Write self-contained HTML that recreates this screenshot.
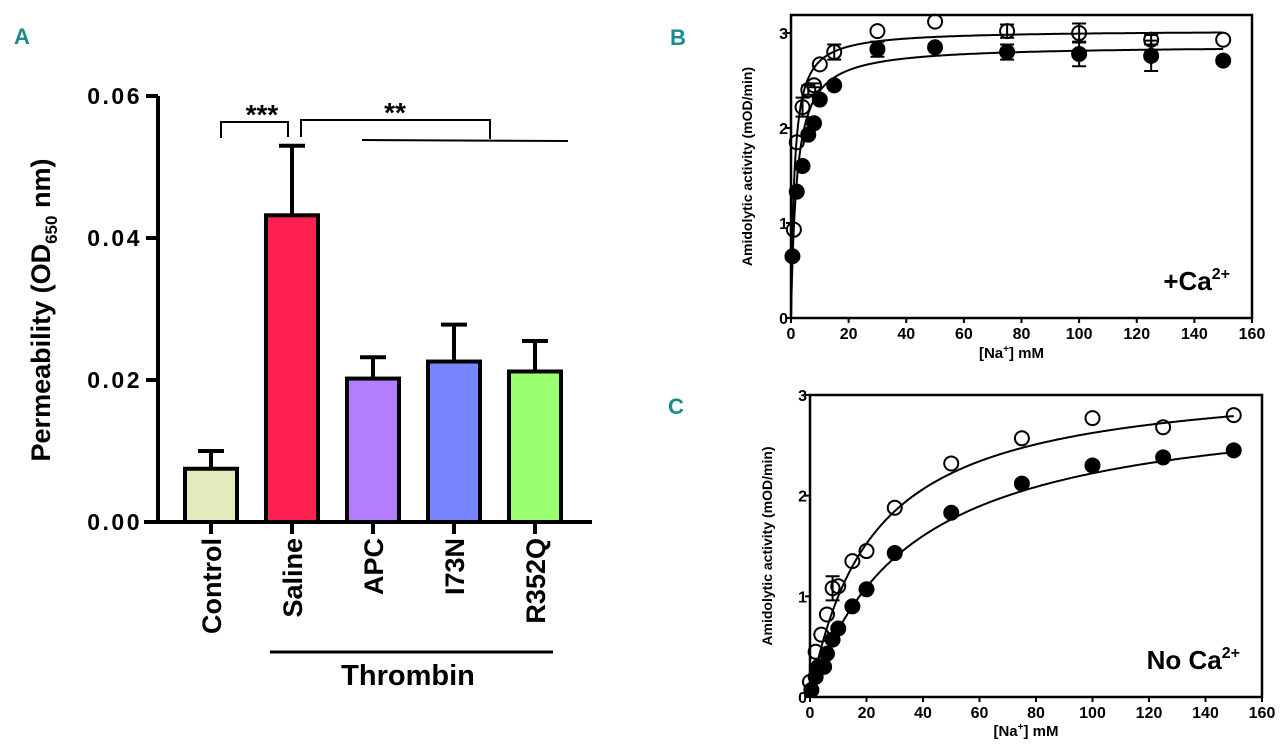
<!DOCTYPE html>
<html><head><meta charset="utf-8"><style>
html,body{margin:0;padding:0;background:#fff;width:1280px;height:753px;overflow:hidden}
svg{display:block;font-family:"Liberation Sans",Arial,sans-serif;font-weight:bold}
</style></head><body>
<svg id="fig" width="1280" height="753" viewBox="0 0 1280 753" xmlns="http://www.w3.org/2000/svg">
<text x="14" y="44" font-size="22" fill="#1b8a8c">A</text>
<text x="670" y="45" font-size="22" fill="#1b8a8c">B</text>
<text x="668" y="414" font-size="22" fill="#1b8a8c">C</text>
<g id="pa"></g>
<g id="pb"></g>
<g id="pc"></g>
</svg>
<script>
// Panel A data
const aCategories = ["Control","Saline","APC","I73N","R352Q"];
const aValues = [0.0075,0.0432,0.0202,0.0226,0.0212];
const aErrors = [0.0025,0.0098,0.003,0.0052,0.0043];
const aColors = ["#e3ebbd","#ff2152","#b47cff","#7684ff","#9aff70"];
const aTicks = [0,0.02,0.04,0.06];
const aTickLabels = ["0.00","0.02","0.04","0.06"];
// Panel B data
const bOpenX = [1,2,4,6,8,10,15,30,50,75,100,125,150];
const bOpenY = [0.93,1.85,2.22,2.4,2.45,2.67,2.8,3.02,3.12,3.02,3.0,2.93,2.93];
const bOpenErr = [0,0,0.1,0.05,0.02,0,0.08,0,0,0.07,0.1,0.05,0];
const bFillX = [0.5,2,4,6,8,10,15,30,50,75,100,125,150];
const bFillY = [0.65,1.33,1.6,1.93,2.05,2.3,2.45,2.83,2.85,2.8,2.78,2.76,2.71];
const bFillErr = [0,0,0,0,0,0,0,0.08,0,0.08,0.13,0.16,0];
const bFitOpen = [3.03,1.2];
const bFitFill = [2.87,2.0];
// Panel C data
const cOpenX = [0,2,4,6,8,10,15,20,30,50,75,100,125,150];
const cOpenY = [0.15,0.45,0.62,0.82,1.08,1.1,1.35,1.45,1.88,2.32,2.57,2.77,2.68,2.8];
const cOpenErr = [0,0,0,0,0.12,0,0,0,0,0,0,0,0,0];
const cFillX = [0.5,2,3,5,6,8,10,15,20,30,50,75,100,125,150];
const cFillY = [0.07,0.2,0.3,0.3,0.43,0.57,0.68,0.9,1.07,1.43,1.83,2.12,2.3,2.38,2.45];
const cFitOpen = [3.2,22];
const cFitFill = [3.0,35];
const xTicks = [0,20,40,60,80,100,120,140,160];
const yTicks = [0,1,2,3];

const NS="http://www.w3.org/2000/svg";
function mk(parent,tag,attrs,text){const e=document.createElementNS(NS,tag);for(const k in attrs)e.setAttribute(k,attrs[k]);if(text!==undefined)e.textContent=text;parent.appendChild(e);return e;}

// ---- Panel A ----
(function(){
 const g=document.getElementById('pa');
 const y0=522, yPer=(522-96)/0.06;
 const Y=v=>y0-v*yPer;
 const cx=i=>211+i*81, bw=52;
 const ax=mk(g,'line',{x1:158,y1:Y(0.06),x2:158,y2:y0+2,stroke:'#000','stroke-width':4});
 
 const xa=mk(g,'line',{x1:144,y1:y0,x2:592,y2:y0,stroke:'#000','stroke-width':4});
 
 aTicks.forEach((t,i)=>{
  mk(g,'line',{x1:146,y1:Y(t),x2:158,y2:Y(t),stroke:'#000','stroke-width':4});
  const l=mk(g,'text',{x:142,y:Y(t)+8,'font-size':23,'text-anchor':'end','letter-spacing':'2.5'},aTickLabels[i]);
  
 });
 const yt=mk(g,'text',{x:0,y:0,'font-size':27,'text-anchor':'middle',transform:`translate(50,310) rotate(-90)`});
 
 yt.innerHTML='Permeability (OD<tspan font-size="17" dy="7">650</tspan><tspan dy="-7"> nm)</tspan>';
 aCategories.forEach((c,i)=>{
  const x=cx(i), top=Y(aValues[i]), et=Y(aValues[i]+aErrors[i]);
  mk(g,'line',{x1:x,y1:top,x2:x,y2:et,stroke:'#000','stroke-width':4});
  mk(g,'line',{x1:x-13,y1:et,x2:x+13,y2:et,stroke:'#000','stroke-width':4});
  const b=mk(g,'rect',{x:x-bw/2,y:top,width:bw,height:y0-top,fill:aColors[i],stroke:'#000','stroke-width':4});
  
  mk(g,'line',{x1:x,y1:y0,x2:x,y2:y0+12,stroke:'#000','stroke-width':4});
  const t=mk(g,'text',{x:0,y:0,'font-size':27,'text-anchor':'end',transform:`translate(${x+10},538) rotate(-90)`},c);
  
 });
 const br='#000';
 mk(g,'path',{d:`M221 138 V122 H288 V137`,fill:'none',stroke:br,'stroke-width':2});
 mk(g,'text',{x:262,y:124,'font-size':28,'text-anchor':'middle'},'***');
 mk(g,'path',{d:`M301 137 V120 H490 V139`,fill:'none',stroke:br,'stroke-width':2});
 mk(g,'text',{x:395,y:122,'font-size':28,'text-anchor':'middle'},'**');
 mk(g,'line',{x1:362,y1:140,x2:568,y2:141,stroke:br,'stroke-width':2});
 mk(g,'line',{x1:270,y1:652,x2:553,y2:652,stroke:'#000','stroke-width':3});
 const th=mk(g,'text',{x:408,y:685,'font-size':29,'text-anchor':'middle'},'Thrombin');
 
})();

// ---- Panels B & C ----
function panel(id,box,ymax,openX,openY,openErr,fillX,fillY,fillErr,fitO,fitF,hill,labelMain,ytitleX,xtitleY){
 const g=document.getElementById(id);
 const [L,T,R,B]=box;
 const X=v=>L+v/160*(R-L);
 const Y=v=>B-v/ymax*(B-T);
 const f=mk(g,'rect',{x:L,y:T,width:R-L,height:B-T,fill:'none',stroke:'#000','stroke-width':2.5});
 
 xTicks.forEach(t=>{
  mk(g,'line',{x1:X(t),y1:B,x2:X(t),y2:B+5,stroke:'#000','stroke-width':2});
  const l=mk(g,'text',{x:X(t),y:B+21,'font-size':16,'text-anchor':'middle'},t);
  
 });
 yTicks.forEach(t=>{
  mk(g,'line',{x1:L-5,y1:Y(t),x2:L,y2:Y(t),stroke:'#000','stroke-width':2});
  const l=mk(g,'text',{x:L-3,y:Y(t)+6,'font-size':16,'text-anchor':'end'},t);
  
 });
 const xt=mk(g,'text',{x:(L+R)/2-10,y:xtitleY,'font-size':15,'text-anchor':'middle'});
 xt.innerHTML='[Na<tspan font-size="10" dy="-6">+</tspan><tspan dy="6">] mM</tspan>';
 
 const yt=mk(g,'text',{x:0,y:0,'font-size':14,'text-anchor':'middle',transform:`translate(${ytitleX},${(T+B)/2}) rotate(-90)`},'Amidolytic activity (mOD/min)');
 
 [[fitO,'fit-curve-open'],[fitF,'fit-curve-filled']].forEach(([p,n])=>{
  let d='';for(let s=0;s<=600;s++){const x=150*Math.pow(s/600,2);const v=p[0]*Math.pow(x,hill)/(Math.pow(p[1],hill)+Math.pow(x,hill));d+=(s?'L':'M')+X(x).toFixed(1)+' '+Y(v).toFixed(1);}
  const c=mk(g,'path',{d:d,fill:'none',stroke:'#000','stroke-width':2});
  
 });
 function pts(xs,ys,es,fill,n){
  xs.forEach((x,i)=>{
   if(es&&es[i]>0){const a=Y(ys[i]+es[i]),b=Y(ys[i]-es[i]);
    mk(g,'path',{d:`M${X(x)} ${a} V${b} M${X(x)-7} ${a} H${X(x)+7} M${X(x)-7} ${b} H${X(x)+7}`,stroke:'#000','stroke-width':2,fill:'none'});}
   const c=mk(g,'circle',{cx:X(x),cy:Y(ys[i]),r:7,fill:fill?'#000':'#fff','fill-opacity':fill?1:0,stroke:'#000','stroke-width':2});
   
  });
 }
 pts(fillX,fillY,fillErr,true,'point-filled');
 pts(openX,openY,openErr,false,'point-open');
 const lab=mk(g,'text',{x:R-22,y:B-28,'font-size':26,'text-anchor':'end'});
 lab.innerHTML=labelMain+'Ca<tspan font-size="16" dy="-11">2+</tspan>';
 
}
panel('pb',[791,15,1252,318],3.19,bOpenX,bOpenY,bOpenErr,bFillX,bFillY,bFillErr,bFitOpen,bFitFill,1,'+',752,358);
panel('pc',[810,395,1262,697],3.0,cOpenX,cOpenY,cOpenErr,cFillX,cFillY,null,cFitOpen,cFitFill,1,'No ',772,736);
</script>
</body></html>
